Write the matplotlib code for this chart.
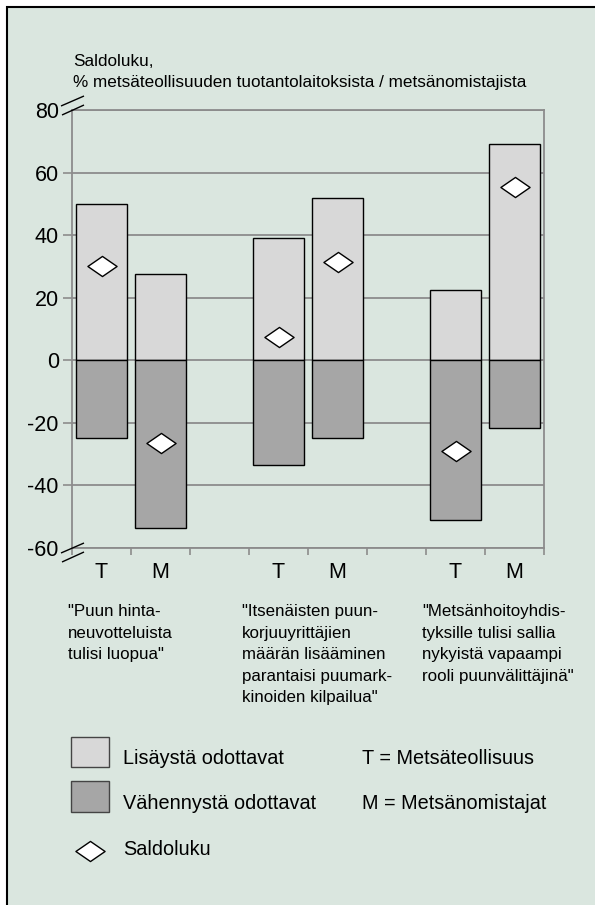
import matplotlib
matplotlib.use("Agg")
import matplotlib.pyplot as plt
import numpy as np
from matplotlib.patches import Rectangle
from matplotlib.path import Path

# ---------------- data ----------------
slot_labels = ["T", "M", "", "T", "M", "", "T", "M"]
bar_slots = [0, 1, 3, 4, 6, 7]
increase = [50, 27.5, 39, 52, 22.5, 69]        # Lisäystä odottavat
decrease = [-25, -53.5, -33.5, -25, -51, -21.5]  # Vähennystä odottavat
saldo = [30, -26.5, 7.5, 31.5, -29, 55.5]       # Saldoluku
yticks = [80, 60, 40, 20, 0, -20, -40, -60]
ytick_labels = ["80", "60", "40", "20", "0", "-20", "-40", "-60"]
statements = [
    "\"Puun hinta-\nneuvotteluista\ntulisi luopua\"",
    "\"Itsenäisten puun-\nkorjuuyrittäjien\nmäärän lisääminen\nparantaisi puumark-\nkinoiden kilpailua\"",
    "\"Metsänhoitoyhdis-\ntyksille tulisi sallia\nnykyistä vapaampi\nrooli puunvälittäjinä\"",
]
ylabel_lines = ["Saldoluku,", "% metsäteollisuuden tuotantolaitoksista / metsänomistajista"]
legend_labels = ["Lisäystä odottavat", "Vähennystä odottavat", "Saldoluku"]
group_legend = ["T = Metsäteollisuus", "M = Metsänomistajat"]

# ---------------- style ----------------
plt.rcParams["font.family"] = ["Liberation Sans", "DejaVu Sans"]
BG = "#dae6df"
LIGHT = "#d8d8d8"
DARK = "#a6a6a6"
GRID = "#8c8c8c"

W, H = 595, 905
DPI = 100
fig = plt.figure(figsize=(W / DPI, H / DPI), dpi=DPI, facecolor="white")

# background overlay (pixel coords)
bg = fig.add_axes([0, 0, 1, 1], zorder=-1)
bg.set_xlim(0, W)
bg.set_ylim(H, 0)
bg.axis("off")
bg.add_patch(Rectangle((7, 7), 700, 1000, facecolor=BG, edgecolor="black", lw=1.5))

# main axes
L, R, T, B = 72, 544, 110, 548
ax = fig.add_axes([L / W, (H - B) / H, (R - L) / W, (B - T) / H])
ax.set_facecolor("none")
ax.set_xlim(-0.5, 7.5)
ax.set_ylim(-60, 80)

ax.set_yticks(yticks)
ax.set_yticklabels(ytick_labels, fontsize=15.5)
ax.yaxis.grid(True, color=GRID, lw=1.3, zorder=0)
ax.set_axisbelow(True)
ax.tick_params(axis="y", length=6.5, width=1.2, color=GRID, pad=3)
for t in ax.yaxis.get_major_ticks():
    if t.get_loc() in (80, -60):
        t.tick1line.set_visible(False)

ax.set_xticks(range(len(slot_labels)))
ax.set_xticklabels(slot_labels, fontsize=15.5)
ax.tick_params(axis="x", which="major", length=0, pad=10)
ax.set_xticks(np.arange(-0.5, 8, 1.0), minor=True)
ax.tick_params(axis="x", which="minor", length=5, width=1.2, color=GRID)

for s in ax.spines.values():
    s.set_color(GRID)
    s.set_linewidth(1.3)

bw = 0.86
ax.bar(bar_slots, increase, width=bw, color=LIGHT, edgecolor="black", lw=1.0, zorder=3)
ax.bar(bar_slots, decrease, width=bw, color=DARK, edgecolor="black", lw=1.0, zorder=3)

diamond = Path([(-1.45, 0), (0, 1), (1.45, 0), (0, -1), (-1.45, 0)],
               [Path.MOVETO, Path.LINETO, Path.LINETO, Path.LINETO, Path.CLOSEPOLY])
ax.plot(bar_slots, saldo, linestyle="none", marker=diamond, markersize=21,
        markerfacecolor="white", markeredgecolor="black", markeredgewidth=1.0, zorder=4)

# foreground overlay (pixel coords)
fg = fig.add_axes([0, 0, 1, 1], zorder=5)
fg.set_facecolor("none")
fg.set_xlim(0, W)
fg.set_ylim(H, 0)
fg.axis("off")

# axis break marks
for (x0, y0, x1, y1) in [(61, 106, 84, 96), (62, 115, 84, 105),
                         (61, 553, 84, 543), (62, 562, 84, 552)]:
    fg.plot([x0, x1], [y0, y1], color="black", lw=1.0, solid_capstyle="butt")

# y label
fg.text(73, 62, ylabel_lines[0], fontsize=12.3, va="center", ha="left")
fg.text(73, 82, ylabel_lines[1], fontsize=12.3, va="center", ha="left")

# statements
for x, s in zip([67.5, 242, 422], statements):
    fg.text(x, 604, s, fontsize=12.2, va="top", ha="left", linespacing=1.55)

# legend
fg.add_patch(Rectangle((71, 737), 38, 30, facecolor=LIGHT, edgecolor="#444444", lw=1.0))
fg.add_patch(Rectangle((71, 781), 38, 31, facecolor=DARK, edgecolor="#444444", lw=1.0))
fg.plot([90], [851], linestyle="none", marker=diamond, markersize=21,
        markerfacecolor="white", markeredgecolor="black", markeredgewidth=1.0)
fg.text(123, 758, legend_labels[0], fontsize=14.3, va="center", ha="left")
fg.text(123, 803, legend_labels[1], fontsize=14.3, va="center", ha="left")
fg.text(123, 849, legend_labels[2], fontsize=14.3, va="center", ha="left")
fg.text(362, 758, group_legend[0], fontsize=14.3, va="center", ha="left")
fg.text(362, 803, group_legend[1], fontsize=14.3, va="center", ha="left")

fig.savefig("out.png", dpi=DPI, facecolor="white")
